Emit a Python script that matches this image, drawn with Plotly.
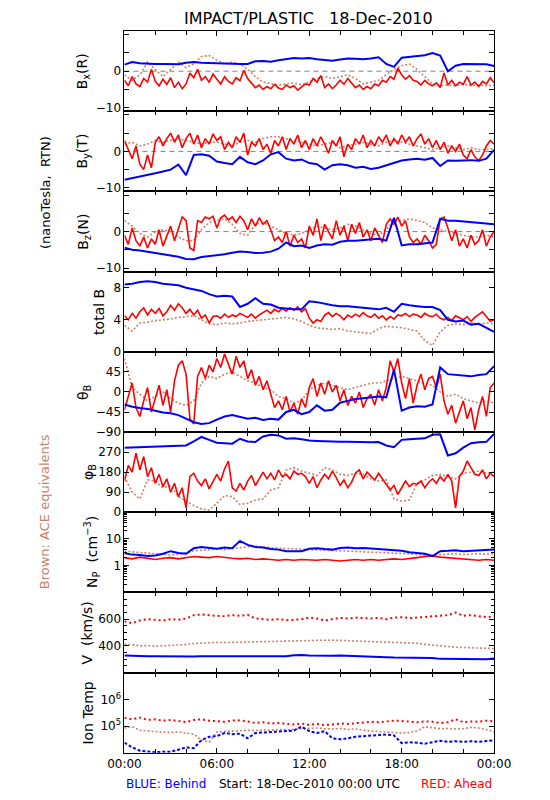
import numpy as np
import plotly.graph_objects as go

# ---------------- DATA (hours 0..24) ----------------
# Panel 1: Bx (R), nT
bx_red = [-2.5, -4.0, -1.5, -3.5, -4.2, -2.0, -3.0, 0.5, -2.8, -4.0, -2.2, -3.6,
          -1.8, -4.5, -3.0, -4.8, -3.5, -0.5, -1.8, 0.5, -2.5, -1.5, -3.0, -0.8,
          -2.2, -3.5, -1.5, -2.8, -3.5, -1.8, -2.6, 0.2, -2.0, -3.2, -4.5, -3.8,
          -5.0, -4.2, -4.8, -3.6, -4.6, -5.0, -3.8, -4.5, -4.0, -5.2, -4.4, -3.5,
          -3.8, -2.0, -3.0, -1.2, -4.5, -3.5, -4.8, -3.8, -2.5, -3.6, -2.0, -3.2,
          -4.5, -3.8, -5.0, -4.2, -4.8, -3.5, -4.0, -2.5, -3.0, -1.5, -2.2, 0.8,
          -1.0, -2.2, -1.2, -2.5, -2.8, -3.8, -2.5, -3.5, -4.0, -3.2, -4.5, -0.5,
          -3.8, -2.5, -4.0, -3.0, -3.6, -1.5, -3.8, -3.0, -4.2, -2.8, -3.5, -1.8, -3.2]
bx_blue = [1.8, 2.5, 2.2, 2.0, 2.0, 2.0, 2.0, 1.9, 2.3, 2.5, 2.3, 2.2, 2.2, 2.1, 2.0, 2.0,
           2.0, 2.7, 2.8, 2.6, 3.0, 3.2, 3.6, 3.5, 3.6, 3.3, 3.0, 2.9, 3.2, 3.5, 3.4, 3.3,
           3.5, 3.8, 2.0, 1.2, 3.7, 3.9, 4.1, 4.4, 5.0, 4.3, 0.0, 1.5, 2.0, 2.0, 1.8, 1.9, 1.4]
bx_brown = [-1.0, -2.5, -1.0, 2.5, 0.5, -1.5, 0.5, 2.5, 1.0, 2.0, 4.0, 4.3, 3.0, 2.0, 2.5, 2.0,
            0.5, -1.5, -3.0, -3.5, -3.8, -3.5, -3.2, -3.8, -3.0, -2.0, -1.5, -2.0, -1.5, -1.0,
            -2.0, -3.5, -3.0, -2.5, -1.0, 0.5, 1.5, 2.0, 0.5, -1.5, -3.5, -4.0, -3.8, -4.0,
            -3.6, -3.9, -3.8, -4.0, -3.8]

# Panel 2: By (T)
by_red = [3.0, 0.5, -2.0, 1.5, -3.5, -5.0, -1.0, -4.5, 2.5, 4.0, 1.5, 3.5,
          5.0, 2.5, 4.5, 1.0, 3.5, 5.0, 2.0, 4.5, 1.0, 3.5, 2.0, 4.8,
          3.0, 4.0, 0.5, 2.5, 1.0, 4.0, 2.5, 5.0, -1.0, 2.5, 1.5, 3.5,
          0.5, 2.0, -0.5, 3.0, 1.5, 4.0, 0.5, 3.5, 2.0, 4.5, 1.0, 3.0,
          0.5, 3.5, 1.5, 4.0, 2.0, -0.5, 3.0, 1.5, 4.0, -1.5, 2.0, 0.5,
          3.5, 2.0, 4.5, 1.0, 3.0, 1.5, 4.0, 2.5, 4.5, 1.5, 3.5, 2.0,
          4.5, 2.5, 4.0, 1.5, 3.5, 4.8, 2.0, 3.5, 1.0, 3.0, 0.5, 2.5,
          -0.5, 1.5, 0.0, 2.0, -1.0, -2.0, 0.5, -1.5, -2.5, -1.0, 1.5, 3.0, 2.0]
by_blue = [-7.8, -7.4, -7.0, -6.6, -6.0, -5.5, -5.0, -3.6, -6.5, -1.0, -0.8, -1.2, -2.8,
           -3.2, -3.5, -1.5, -3.0, -3.5, -2.5, -0.8, -0.2, -2.0, -2.5, -2.2, -3.2, -3.5,
           -5.0, -3.8, -3.5, -3.8, -4.5, -4.2, -4.8, -4.5, -3.8, -3.0, -2.5, -2.2, -2.0,
           -2.3, -1.8, -4.0, -2.5, -2.6, -2.5, -2.4, -2.6, -2.0, 0.4]
by_brown = [2.0, 2.5, 1.5, 2.0, 3.0, 2.5, 3.0, 3.5, 3.0, 2.5, 2.0, 2.5, 2.5, 2.0, 1.5, 2.5,
            3.0, 2.5, 3.5, 4.0, 4.0, 3.5, 3.0, 2.5, 2.0, 1.5, 2.0, 2.5, 1.0, 1.5, 2.0, 2.5,
            2.0, 1.5, 2.5, 3.0, 2.5, 2.0, 1.5, 1.0, 0.5, 1.0, 1.5, 1.0, 0.5, 1.0, 0.5, 0.5, 0.8]

# Panel 3: Bz (N)
bz_red = [-1.0, -3.5, 1.0, -2.5, -4.0, -1.5, -4.5, -2.0, -3.5, 0.5, -4.0, -1.0,
          1.5, -2.5, 0.5, 4.0, 3.0, -4.5, -5.2, 3.0, 2.5, 4.0, 3.5, 4.2,
          1.0, 3.8, 4.5, 3.2, 4.0, 2.5, 4.2, 3.0, 0.5, 3.5, 1.5, 3.8,
          2.0, 3.0, 0.5, -2.5, -1.5, -3.0, 0.0, -4.0, -1.0, -3.0, -2.0, -4.5,
          1.5, -1.0, 3.5, -2.5, 2.0, 0.0, -2.0, 3.0, -1.0, 1.5, -2.5, 2.0,
          -0.5, 2.5, -1.5, 0.5, -2.5, 1.0, -1.0, -3.0, 2.0, 3.5, 2.0, 4.0,
          1.5, 3.0, -1.5, -3.0, -2.0, -3.5, -1.0, -2.5, -4.5, -3.5, 3.5, 4.0,
          1.0, -2.5, 0.5, -4.0, -2.0, -4.5, -1.0, -3.5, -2.5, 0.5, -4.0, -1.5, 0.0]
bz_blue = [-4.4, -5.0, -5.2, -5.5, -5.8, -6.2, -6.6, -6.9, -7.5, -7.6, -7.0, -6.8, -6.5,
           -6.2, -5.8, -5.5, -5.6, -5.9, -5.8, -5.5, -4.7, -3.0, -4.0, -3.8, -4.5, -3.8,
           -3.5, -3.6, -2.8, -2.5, -2.5, -2.3, -2.2, -2.0, -2.5, 3.8, -3.8, -3.5, -3.5,
           -3.2, -3.0, 3.5, 3.0, 3.0, 2.8, 2.5, 2.5, 2.2, 2.0]
bz_brown = [3.0, 1.5, -0.5, -1.5, 0.0, 0.5, 0.0, -1.5, -2.5, -2.5, 0.5, 2.5, 3.0, 3.5, 2.0,
            -0.5, -1.0, 2.0, 2.5, 1.5, 0.5, -0.5, -1.0, -0.5, 0.5, 1.5, 1.0, 0.5, 1.0, 2.0,
            1.5, 0.5, -0.5, -1.0, 0.5, 3.0, 3.0, 3.5, 3.0, 2.5, 1.0, 0.5, 0.0, -0.5, -1.0,
            -1.5, -1.5, -1.0, -1.5]

# Panel 4: total B
bt_red = [4.5, 4.0, 4.8, 4.2, 5.0, 5.5, 4.6, 5.3, 4.8, 5.4, 4.5, 5.0,
          5.8, 5.2, 6.0, 5.5, 4.8, 5.3, 4.6, 5.2, 4.2, 4.6, 3.6, 4.4,
          4.5, 4.2, 4.7, 4.3, 4.6, 4.4, 4.8, 4.5, 4.3, 4.7, 4.2, 4.6,
          4.9, 5.2, 4.8, 5.3, 5.0, 5.4, 5.1, 5.5, 5.2, 5.6, 5.0, 5.4,
          4.2, 3.6, 4.0, 3.8, 4.6, 4.9, 4.4, 4.8, 4.5, 4.0, 4.6, 4.3,
          4.7, 4.4, 4.9, 4.5, 4.3, 4.7, 4.2, 4.5, 4.0, 4.4, 4.1, 4.6,
          4.5, 4.8, 4.4, 4.7, 4.6, 4.3, 4.8, 4.5, 4.4, 4.7, 4.2, 4.0,
          4.3, 3.9, 4.5, 4.2, 4.0, 4.4, 3.8, 4.3, 4.6, 5.0, 4.4, 3.8, 4.0]
bt_blue = [8.4, 8.5, 8.7, 8.8, 8.7, 8.5, 8.4, 8.3, 8.0, 7.8, 7.6, 7.2, 6.9, 7.0, 6.9, 5.6,
           6.0, 6.7, 6.0, 5.9, 5.5, 5.4, 5.3, 5.3, 6.3, 6.2, 6.0, 5.8, 5.7, 5.7, 5.6, 5.5,
           5.4, 5.3, 5.5, 5.0, 6.0, 5.8, 5.7, 5.6, 5.6, 5.2, 4.0, 3.8, 3.9, 3.4, 3.5, 3.0, 2.5]
bt_brown = [3.3, 2.6, 3.6, 3.7, 3.9, 4.0, 4.1, 4.3, 4.4, 4.5, 4.0, 3.5, 3.4, 3.6, 3.5, 3.6,
            3.8, 3.9, 4.0, 4.1, 4.2, 4.3, 4.1, 3.8, 3.3, 3.0, 2.9, 2.8, 2.9, 2.6, 2.5, 2.4,
            2.3, 2.9, 3.2, 3.1, 3.0, 2.8, 2.6, 1.4, 0.8, 2.5, 3.3, 3.5, 3.4, 3.6, 3.5, 3.6, 3.5]

# Panel 5: theta_B (deg)
th_red = [-40, -10, 20, -35, -55, -20, 10, -45, -15, 15, -30, 5,
          -45, 25, 60, 70, 40, -60, -72, 35, 55, 30, 60, 45,
          75, 55, 85, 60, 40, 80, 55, 70, 30, 50, 15, 35,
          5, 25, -5, -35, -20, -40, -10, -45, -25, -50, -15, -35,
          10, 30, -10, 20, -5, 25, 0, 15, -20, 5, -30, -10,
          -25, 0, -35, -15, -5, -30, 5, -20, 10, 70, 45, 75,
          20, -15, 30, -25, 15, 40, 5, 30, 35, 10, 40, -20,
          -50, -30, -70, -45, -20, -60, -35, -85, -40, -10, -55, 10, 20]
th_blue = [-28, -33, -36, -38, -42, -46, -48, -52, -60, -68, -72, -70, -62, -55, -52, -56,
           -60, -58, -63, -60, -62, -45, -40, -50, -45, -30, -42, -40, -24, -20, -16, -14,
           -12, -10, -12, 50, -42, -35, -32, -33, -28, 55, 40, 38, 36, 35, 38, 40, 58]
th_brown = [75, 10, -5, -20, -10, 0, -15, -25, -30, -20, 20, 35, 30, 40, 45, 35, 25, 20, 10,
            5, -10, -15, -25, -20, 5, 15, 20, 15, 10, 5, 10, 15, 20, 20, 25, 30, 35, 30, 25,
            20, 15, 0, -10, -5, -15, -20, -25, -20, -25]

# Panel 6: phi_B (deg)
ph_red = [140, 210, 180, 265, 190, 250, 160, 200, 130, 170, 115, 150,
          90, 130, 70, 110, 20, 160, 175, 140, 120, 150, 105, 135,
          170, 140, 195, 230, 110, 95, 130, 100, 140, 165, 120, 150,
          180, 150, 175, 145, 190, 160, 170, 150, 185, 170, 175, 160,
          130, 160, 110, 145, 170, 150, 185, 155, 120, 145, 110, 135,
          175, 190, 150, 180, 160, 145, 175, 150, 130, 100, 120, 80,
          110, 140, 115, 130, 125, 140, 110, 135, 150, 130, 160, 140,
          170, 140, 20, 160, 185, 230, 200, 170, 165, 190, 150, 175, 160]
ph_blue = [290, 291, 292, 293, 294, 294, 295, 296, 300, 318, 338, 325, 312, 310, 308, 330,
           318, 315, 340, 348, 345, 330, 332, 328, 322, 320, 318, 318, 316, 317, 315, 316,
           314, 315, 300, 292, 325, 328, 330, 332, 348, 350, 255, 265, 290, 310, 314, 316, 352]
ph_brown = [160, 90, 60, 145, 140, 110, 120, 70, 50, 30, 15, 10, 40, 75, 70, 35, 40, 55, 60,
            100, 110, 190, 200, 185, 175, 165, 200, 190, 170, 165, 175, 170, 150, 140, 145,
            60, 50, 55, 130, 145, 165, 170, 160, 150, 175, 180, 185, 175, 180]

# Panel 7: proton density (cm^-3)
np_red = [2.0, 1.8, 2.1, 1.9, 1.7, 1.9, 2.0, 1.8, 2.0, 2.2, 2.1, 2.0, 2.2, 2.0, 1.9, 1.8,
          1.9, 1.7, 1.8, 1.7, 1.6, 1.7, 1.6, 1.7, 1.6, 1.6, 1.7, 1.6, 1.5, 1.6, 1.7, 1.6,
          1.7, 1.6, 1.7, 1.8, 1.7, 1.8, 2.0, 2.2, 2.3, 2.1, 2.0, 1.9, 1.8, 1.7, 1.6, 1.7, 1.6]
np_blue = [2.9, 2.6, 2.5, 2.3, 2.4, 2.8, 3.5, 3.0, 2.8, 4.5, 5.0, 4.5, 4.3, 4.8, 4.5, 8.5,
           6.0, 5.0, 4.8, 4.2, 4.0, 3.5, 3.6, 3.5, 4.3, 4.5, 4.2, 4.0, 4.6, 4.8, 4.5, 4.6,
           4.4, 4.2, 4.0, 3.8, 3.6, 3.2, 3.0, 2.8, 2.3, 3.5, 3.6, 3.8, 3.5, 3.6, 3.8, 3.9, 4.0]
np_brown = [3.5, 3.3, 3.2, 3.0, 2.8, 2.6, 2.5, 2.7, 3.0, 3.6, 3.8, 4.0, 4.2, 4.0, 4.3, 4.5,
            5.0, 5.5, 5.0, 4.6, 4.5, 4.4, 4.3, 4.2, 4.1, 4.0, 3.8, 3.9, 3.6, 3.5, 3.4, 3.3,
            3.2, 3.3, 3.1, 3.0, 2.9, 2.8, 2.6, 2.5, 2.4, 2.6, 2.7, 2.8, 2.6, 2.7, 2.8, 2.7, 2.8]

# Panel 8: bulk speed (km/s)
v_red = [585, 570, 590, 600, 595, 590, 600, 595, 605, 630, 635, 628, 625, 622, 630, 625,
         632, 605, 598, 595, 600, 592, 596, 600, 612, 605, 590, 600, 610, 605, 612, 608,
         605, 610, 600, 612, 615, 608, 612, 618, 625, 628, 630, 650, 625, 630, 622, 615, 620]
v_blue = [328, 325, 323, 322, 322, 321, 322, 322, 322, 321, 322, 322, 321, 322, 322, 323,
          322, 321, 322, 323, 322, 322, 330, 332, 328, 326, 326, 327, 328, 326, 325, 325,
          324, 323, 316, 313, 312, 313, 312, 311, 310, 303, 302, 301, 302, 303, 302, 301, 305]
v_brown = [412, 410, 400, 402, 398, 400, 402, 405, 410, 418, 422, 424, 426, 425, 426, 428,
           427, 428, 430, 432, 434, 435, 436, 438, 440, 442, 444, 443, 441, 438, 436, 434,
           432, 430, 428, 426, 425, 424, 420, 412, 405, 400, 395, 390, 388, 390, 388, 386, 380]

# Panel 9: ion temperature (K)
t_red = [2.0e5, 1.8e5, 2.1e5, 1.7e5, 1.8e5, 1.6e5, 1.7e5, 1.5e5, 1.4e5, 1.7e5, 1.8e5, 1.6e5,
         1.5e5, 1.45e5, 1.6e5, 1.65e5, 1.5e5, 1.3e5, 1.4e5, 1.25e5, 1.3e5, 1.2e5, 1.15e5,
         1.25e5, 1.1e5, 1.2e5, 1.1e5, 1.15e5, 1.25e5, 1.2e5, 1.3e5, 1.4e5, 1.45e5, 1.4e5,
         1.5e5, 1.6e5, 1.55e5, 1.5e5, 1.4e5, 1.5e5, 1.45e5, 1.3e5, 1.4e5, 1.8e5, 1.4e5,
         1.5e5, 1.45e5, 1.6e5, 1.5e5]
t_blue = [2.4e4, 1.6e4, 1.2e4, 1.1e4, 1.05e4, 1.1e4, 1.1e4, 1.3e4, 1.6e4, 1.5e4, 3.0e4, 4.0e4,
          4.2e4, 5.5e4, 5.0e4, 5.2e4, 3.5e4, 5.5e4, 5.8e4, 6.0e4, 6.2e4, 6.5e4, 6.8e4, 9.5e4,
          6.5e4, 5.5e4, 6.5e4, 3.5e4, 3.2e4, 3.5e4, 4.0e4, 4.2e4, 4.5e4, 4.6e4, 4.8e4, 4.5e4,
          2.3e4, 2.5e4, 2.4e4, 2.2e4, 2.5e4, 2.8e4, 2.6e4, 2.7e4, 2.6e4, 2.7e4, 2.6e4, 2.7e4, 2.9e4]
t_brown = [8.5e4, 9.5e4, 7.0e4, 6.5e4, 6.2e4, 6.0e4, 5.8e4, 6.0e4, 5.5e4, 5.0e4, 3.0e4, 2.5e4,
           6.0e4, 6.2e4, 6.5e4, 6.8e4, 7.0e4, 6.8e4, 7.2e4, 7.0e4, 7.5e4, 7.2e4, 7.8e4, 8.0e4,
           8.2e4, 8.5e4, 8.0e4, 7.8e4, 8.2e4, 7.5e4, 7.8e4, 7.0e4, 6.5e4, 6.2e4, 6.0e4, 5.8e4,
           5.5e4, 5.8e4, 6.5e4, 9.5e4, 8.5e4, 8.0e4, 8.2e4, 7.8e4, 8.0e4, 9.0e4, 8.5e4, 7.5e4, 6.0e4]

x_tickvals = [0, 6, 12, 18, 24]
x_ticktext = ["00:00", "06:00", "12:00", "18:00", "00:00"]

# ---------------- STYLE / LAYOUT ----------------
RED = "#ff0000"
BLUE = "#0000ff"
BROWN = "#c8826a"
FONT = "DejaVu Sans"
W, H = 550, 800
XL, XR = 106, 500
TOP, PH = 23.3, 80.9

def hours(a):
    return np.linspace(0, 24, len(a))

log_minor_np = [m * d for d in (0.1, 1, 10) for m in range(2, 10)]

panels = [
    dict(r=bx_red, b=bx_blue, n=bx_brown, rng=[-11, 11], tv=[-10, 0],
         tt=["\u221210", "0"], mv=[-5, 5, 10], lab="B<sub>x</sub>(R)", lx=62, zero=True),
    dict(r=by_red, b=by_blue, n=by_brown, rng=[-11, 11], tv=[-10, 0],
         tt=["\u221210", "0"], mv=[-5, 5, 10], lab="B<sub>y</sub>(T)", lx=62, zero=True),
    dict(r=bz_red, b=bz_blue, n=bz_brown, rng=[-11, 11], tv=[-10, 0],
         tt=["\u221210", "0"], mv=[-5, 5, 10], lab="B<sub>z</sub>(N)", lx=62, zero=True),
    dict(r=bt_red, b=bt_blue, n=bt_brown, rng=[0, 10], tv=[0, 4, 8],
         tt=["0", "4", "8"], mv=None, lab="total B", lx=79),
    dict(r=th_red, b=th_blue, n=th_brown, rng=[-90, 90], tv=[-90, -45, 0, 45],
         tt=["\u221290", "\u221245", "0", "45"], mv=None, lab="\u03b8<sub>B</sub>", lx=63),
    dict(r=ph_red, b=ph_blue, n=ph_brown, rng=[0, 360], tv=[0, 90, 180, 270],
         tt=["0", "90", "180", "270"], mv=None, lab="\u03c6<sub>B</sub>", lx=68),
    dict(r=np_red, b=np_blue, n=np_brown, rng=[-1, 2], tv=[1, 10],
         tt=["1", "10"], mv=log_minor_np, mlen=3,
         lab="N<sub>P</sub>  (cm<sup>\u22123</sup>)", lx=72, log=True),
    dict(r=v_red, b=v_blue, n=v_brown, rng=[200, 800], tv=[400, 600],
         tt=["400", "600"], mv=[v for v in range(250, 800, 50) if v not in (400, 600)], mlen=3,
         lab="V  (km/s)", lx=66),
    dict(r=t_red, b=t_blue, n=t_brown, rng=[4, 7], tv=[1e5, 1e6],
         tt=["10<sup>5</sup>", "10<sup>6</sup>"], mv=None, lab="Ion Temp", lx=67, log=True),
]

fig = go.Figure()
layout = {}
annotations = []
shapes = []

for i, p in enumerate(panels):
    k = i + 1
    xa = "x" if k == 1 else f"x{k}"
    ya = "y" if k == 1 else f"y{k}"
    top = TOP + PH * i
    bot = top + PH
    # brown (ACE)
    fig.add_trace(go.Scatter(x=hours(p["n"]), y=p["n"], mode="lines",
                             line=dict(color=BROWN, width=1.6, dash="2px,2px"),
                             xaxis=xa, yaxis=ya, showlegend=False, hoverinfo="skip"))
    # red (Ahead)
    if i >= 7:
        rline = dict(color=RED, width=2, dash="2px,3px")
    elif i == 6:
        rline = dict(color=RED, width=1.6)
    else:
        rline = dict(color=RED, width=1.6)
    fig.add_trace(go.Scatter(x=hours(p["r"]), y=p["r"], mode="lines", line=rline,
                             xaxis=xa, yaxis=ya, showlegend=False, hoverinfo="skip"))
    # blue (Behind)
    bline = dict(color=BLUE, width=2) if i < 8 else dict(color=BLUE, width=2, dash="3px,2px")
    fig.add_trace(go.Scatter(x=hours(p["b"]), y=p["b"], mode="lines", line=bline,
                             xaxis=xa, yaxis=ya, showlegend=False, hoverinfo="skip"))

    xkey = "xaxis" if k == 1 else f"xaxis{k}"
    ykey = "yaxis" if k == 1 else f"yaxis{k}"
    xd = dict(
        domain=[XL / W, XR / W], range=[0, 24], anchor=ya,
        showline=True, linecolor="black", linewidth=1, mirror="ticks",
        ticks="inside", ticklen=5, tickwidth=1, tickcolor="black",
        minor=dict(tickvals=[h for h in range(2, 24, 2) if h % 6], ticklen=4,
                   tickcolor="black", ticks="inside"),
        showgrid=False, zeroline=False, fixedrange=True,
    )
    if i == 8:
        xd.update(tickvals=x_tickvals, ticktext=x_ticktext, showticklabels=True,
                  tickfont=dict(family=FONT, size=12, color="black"))
    else:
        xd.update(tickvals=x_tickvals, showticklabels=False)
    layout[xkey] = xd
    yd = dict(
        domain=[1 - bot / H, 1 - top / H], anchor=xa, range=p["rng"],
        showline=True, linecolor="black", linewidth=1, mirror="ticks",
        ticks="inside", ticklen=5, tickwidth=1, tickcolor="black",
        tickvals=p["tv"], ticktext=p["tt"],
        tickfont=dict(family=FONT, size=12, color="black"),
        showgrid=False, zeroline=False, fixedrange=True,
    )
    if p.get("log"):
        yd["type"] = "log"
    if p.get("mv"):
        yd["minor"] = dict(tickvals=p["mv"], ticklen=p.get("mlen", 5), tickcolor="black",
                           ticks="inside")
    layout[ykey] = yd

    if p.get("zero"):
        shapes.append(dict(type="line", xref=xa, yref=ya, x0=0, x1=24, y0=0, y1=0,
                           line=dict(color="#808080", width=1, dash="5px,4px"), layer="below"))

    annotations.append(dict(text=p["lab"], x=p["lx"] / W, y=1 - (top + PH / 2) / H,
                            xref="paper", yref="paper", showarrow=False, textangle=-90,
                            xanchor="center", yanchor="middle",
                            font=dict(family=FONT, size=14, color="black")))

def ann(text, x, y, color="black", size=12, angle=0, xanchor="center"):
    annotations.append(dict(text=text, x=x / W, y=1 - y / H, xref="paper", yref="paper",
                            showarrow=False, textangle=angle, xanchor=xanchor, yanchor="middle",
                            font=dict(family=FONT, size=size, color=color)))

ann("IMPACT/PLASTIC\u00a0\u00a0\u00a018-Dec-2010", 302, 11, size=16)
ann("(nanoTesla,\u00a0\u00a0RTN)", 22, 186, angle=-90, size=13)
ann("Brown:\u00a0ACE\u00a0equivalents", 21, 508, color=BROWN, angle=-90, size=13)
ann("BLUE:\u00a0Behind", 105, 783, color=BLUE, xanchor="left")
ann("Start:\u00a018-Dec-2010\u00a000:00\u00a0UTC", 303, 783)
ann("RED:\u00a0Ahead", 500, 783, color=RED, xanchor="right")

fig.update_layout(
    width=W, height=H, autosize=False,
    margin=dict(l=0, r=0, t=0, b=0),
    paper_bgcolor="white", plot_bgcolor="white",
    annotations=annotations, shapes=shapes,
    font=dict(family=FONT, color="black"),
    **layout,
)

fig.write_html("out.html")
